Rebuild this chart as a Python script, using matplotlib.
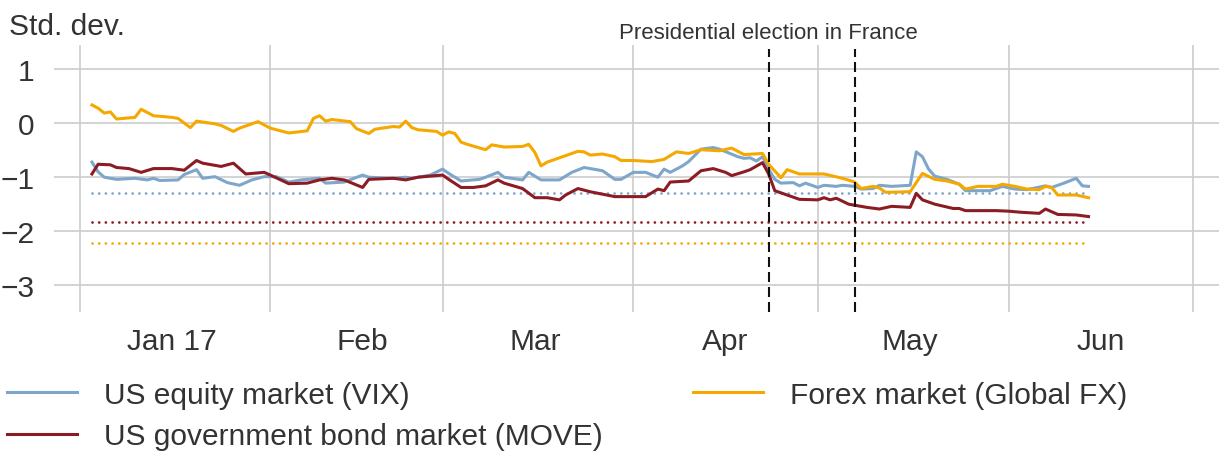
import matplotlib
matplotlib.use('Agg')
import matplotlib.pyplot as plt
import matplotlib.dates as mdates
import pandas as pd

# volatility, in std. dev. from the long-run mean
vix_dates = ['2017-01-03', '2017-01-04', '2017-01-05', '2017-01-07', '2017-01-10', '2017-01-12',
             '2017-01-13', '2017-01-14', '2017-01-17', '2017-01-18', '2017-01-20', '2017-01-21',
             '2017-01-23', '2017-01-25', '2017-01-27', '2017-01-29', '2017-01-31', '2017-02-02',
             '2017-02-04', '2017-02-06', '2017-02-09', '2017-02-10', '2017-02-13', '2017-02-16',
             '2017-02-17', '2017-02-21', '2017-02-23', '2017-02-24', '2017-02-27', '2017-03-01',
             '2017-03-02', '2017-03-04', '2017-03-07', '2017-03-08', '2017-03-10', '2017-03-11',
             '2017-03-14', '2017-03-15', '2017-03-17', '2017-03-20', '2017-03-22', '2017-03-24',
             '2017-03-27', '2017-03-29', '2017-03-30', '2017-04-01', '2017-04-03', '2017-04-05',
             '2017-04-06', '2017-04-07', '2017-04-09', '2017-04-10', '2017-04-12', '2017-04-14',
             '2017-04-15', '2017-04-18', '2017-04-19', '2017-04-20', '2017-04-21', '2017-04-22',
             '2017-04-23', '2017-04-24', '2017-04-25', '2017-04-27', '2017-04-28', '2017-04-29',
             '2017-05-01', '2017-05-02', '2017-05-04', '2017-05-05', '2017-05-07', '2017-05-08',
             '2017-05-10', '2017-05-11', '2017-05-13', '2017-05-16', '2017-05-17', '2017-05-18',
             '2017-05-19', '2017-05-20', '2017-05-22', '2017-05-24', '2017-05-25', '2017-05-29',
             '2017-05-31', '2017-06-02', '2017-06-04', '2017-06-07', '2017-06-08', '2017-06-10',
             '2017-06-12', '2017-06-13', '2017-06-14']
vix = [-0.72, -0.90, -1.00, -1.04, -1.02, -1.05,
       -1.02, -1.06, -1.05, -0.95, -0.86, -1.02,
       -0.99, -1.10, -1.15, -1.05, -0.99, -0.99,
       -1.09, -1.05, -1.02, -1.11, -1.09, -0.96,
       -1.00, -1.02, -1.00, -1.02, -0.96, -0.85,
       -0.93, -1.07, -1.04, -1.00, -0.91, -1.00,
       -1.05, -0.91, -1.05, -1.05, -0.91, -0.82,
       -0.88, -1.04, -1.04, -0.91, -0.91, -1.00,
       -0.85, -0.91, -0.79, -0.71, -0.48, -0.45,
       -0.48, -0.62, -0.65, -0.64, -0.70, -0.62,
       -0.85, -1.04, -1.11, -1.10, -1.16, -1.11,
       -1.19, -1.15, -1.17, -1.15, -1.17, -1.22,
       -1.21, -1.15, -1.17, -1.15, -0.53, -0.62,
       -0.85, -0.98, -1.04, -1.13, -1.25, -1.25,
       -1.17, -1.22, -1.23, -1.16, -1.19, -1.11,
       -1.02, -1.16, -1.17]

move_dates = ['2017-01-03', '2017-01-04', '2017-01-06', '2017-01-07', '2017-01-09', '2017-01-11',
              '2017-01-13', '2017-01-16', '2017-01-18', '2017-01-20', '2017-01-21', '2017-01-24',
              '2017-01-26', '2017-01-28', '2017-01-31', '2017-02-01', '2017-02-04', '2017-02-07',
              '2017-02-09', '2017-02-11', '2017-02-13', '2017-02-16', '2017-02-17', '2017-02-21',
              '2017-02-23', '2017-02-25', '2017-03-01', '2017-03-02', '2017-03-04', '2017-03-06',
              '2017-03-08', '2017-03-10', '2017-03-11', '2017-03-14', '2017-03-16', '2017-03-18',
              '2017-03-20', '2017-03-21', '2017-03-23', '2017-03-25', '2017-03-29', '2017-04-03',
              '2017-04-05', '2017-04-06', '2017-04-07', '2017-04-10', '2017-04-12', '2017-04-14',
              '2017-04-16', '2017-04-17', '2017-04-19', '2017-04-20', '2017-04-22', '2017-04-23',
              '2017-04-24', '2017-04-26', '2017-04-28', '2017-05-01', '2017-05-02', '2017-05-03',
              '2017-05-04', '2017-05-06', '2017-05-09', '2017-05-11', '2017-05-13', '2017-05-16',
              '2017-05-17', '2017-05-18', '2017-05-20', '2017-05-23', '2017-05-24', '2017-05-25',
              '2017-05-30', '2017-06-01', '2017-06-03', '2017-06-06', '2017-06-07', '2017-06-09',
              '2017-06-12', '2017-06-14']
move = [-0.94, -0.76, -0.77, -0.82, -0.84, -0.91,
        -0.84, -0.84, -0.87, -0.69, -0.74, -0.80,
        -0.74, -0.94, -0.91, -0.96, -1.12, -1.11,
        -1.05, -1.02, -1.05, -1.19, -1.04, -1.02,
        -1.05, -1.00, -0.96, -1.04, -1.19, -1.19,
        -1.16, -1.05, -1.11, -1.21, -1.38, -1.38,
        -1.42, -1.33, -1.21, -1.27, -1.36, -1.36,
        -1.22, -1.25, -1.09, -1.07, -0.88, -0.84,
        -0.91, -0.97, -0.90, -0.86, -0.73, -0.94,
        -1.25, -1.33, -1.41, -1.42, -1.38, -1.42,
        -1.39, -1.50, -1.56, -1.59, -1.54, -1.56,
        -1.30, -1.42, -1.50, -1.58, -1.58, -1.62,
        -1.62, -1.63, -1.65, -1.67, -1.59, -1.69,
        -1.70, -1.73]

fx_dates = ['2017-01-03', '2017-01-04', '2017-01-05', '2017-01-06', '2017-01-07', '2017-01-09',
            '2017-01-10', '2017-01-11', '2017-01-12', '2017-01-13', '2017-01-16', '2017-01-17',
            '2017-01-19', '2017-01-20', '2017-01-23', '2017-01-24', '2017-01-26', '2017-01-27',
            '2017-01-30', '2017-02-01', '2017-02-04', '2017-02-07', '2017-02-08', '2017-02-09',
            '2017-02-10', '2017-02-11', '2017-02-14', '2017-02-15', '2017-02-17', '2017-02-18',
            '2017-02-21', '2017-02-22', '2017-02-23', '2017-02-24', '2017-02-25', '2017-02-28',
            '2017-03-01', '2017-03-02', '2017-03-03', '2017-03-04', '2017-03-05', '2017-03-08',
            '2017-03-09', '2017-03-11', '2017-03-14', '2017-03-15', '2017-03-16', '2017-03-17',
            '2017-03-18', '2017-03-20', '2017-03-21', '2017-03-23', '2017-03-24', '2017-03-25',
            '2017-03-27', '2017-03-29', '2017-03-30', '2017-04-01', '2017-04-04', '2017-04-06',
            '2017-04-08', '2017-04-10', '2017-04-12', '2017-04-15', '2017-04-17', '2017-04-19',
            '2017-04-22', '2017-04-23', '2017-04-25', '2017-04-26', '2017-04-28', '2017-05-02',
            '2017-05-05', '2017-05-07', '2017-05-08', '2017-05-10', '2017-05-11', '2017-05-12',
            '2017-05-16', '2017-05-17', '2017-05-18', '2017-05-20', '2017-05-22', '2017-05-24',
            '2017-05-25', '2017-05-27', '2017-05-30', '2017-05-31', '2017-06-02', '2017-06-04',
            '2017-06-06', '2017-06-07', '2017-06-08', '2017-06-09', '2017-06-12', '2017-06-14']
fx = [0.34, 0.28, 0.19, 0.21, 0.08, 0.10,
      0.11, 0.26, 0.20, 0.14, 0.11, 0.09,
      -0.08, 0.04, -0.01, -0.04, -0.15, -0.09,
      0.03, -0.09, -0.18, -0.14, 0.09, 0.14,
      0.04, 0.07, 0.03, -0.10, -0.19, -0.11,
      -0.06, -0.07, 0.04, -0.08, -0.12, -0.15,
      -0.22, -0.16, -0.19, -0.35, -0.39, -0.49,
      -0.40, -0.44, -0.43, -0.39, -0.54, -0.79,
      -0.72, -0.64, -0.60, -0.52, -0.53, -0.59,
      -0.57, -0.62, -0.69, -0.69, -0.71, -0.67,
      -0.53, -0.56, -0.49, -0.51, -0.46, -0.58,
      -0.56, -0.76, -1.01, -0.86, -0.94, -0.94,
      -1.02, -1.09, -1.21, -1.17, -1.20, -1.28,
      -1.27, -1.10, -0.93, -1.04, -1.07, -1.13,
      -1.22, -1.17, -1.17, -1.13, -1.17, -1.22,
      -1.23, -1.17, -1.19, -1.33, -1.33, -1.38]

# long-run averages (dotted lines)
vix_avg = -1.30
move_avg = -1.83
fx_avg = -2.22

events = ['2017-04-23', '2017-05-07']

blue = '#7ea6cb'
red = '#8c1c24'
orange = '#f5a800'
txt = '#333333'

plt.rcParams['font.family'] = ['Liberation Sans', 'DejaVu Sans']

fig = plt.figure(figsize=(12.19, 4.52), dpi=100)
ax = fig.add_axes([0.0443, 0.3075, 0.9557, 0.5905])

vix_t = pd.to_datetime(vix_dates)
move_t = pd.to_datetime(move_dates)
fx_t = pd.to_datetime(fx_dates)

start, end = vix_t[0], vix_t[-1]
dot = dict(lw=2.0, ls=(0, (0.01, 2.4)), dash_capstyle='round')
ax.plot([start, end], [vix_avg, vix_avg], color=blue, **dot)
ax.plot([start, end], [move_avg, move_avg], color=red, **dot)
ax.plot([start, end], [fx_avg, fx_avg], color=orange, **dot)

ax.plot(vix_t, vix, color=blue, lw=2.2, label='US equity market (VIX)')
ax.plot(move_t, move, color=red, lw=2.2, label='US government bond market (MOVE)')
ax.plot(fx_t, fx, color=orange, lw=2.2, label='Forex market (Global FX)')

for d in events:
    ax.axvline(pd.Timestamp(d), ymax=0.985, color='#111111', lw=1.5, ls=(0, (4.8, 2.4)))
ax.text(pd.Timestamp(events[0]), 1.049, 'Presidential election in France',
        transform=ax.get_xaxis_transform(), ha='center', va='center', fontsize=16, color=txt)

ax.set_xlim(pd.Timestamp('2016-12-27 20:00'), pd.Timestamp('2017-07-05 05:00'))
ax.set_ylim(-3.5, 1.45)
ax.set_yticks([-3, -2, -1, 0, 1])

ax.xaxis.set_major_locator(mdates.MonthLocator())
ax.xaxis.set_major_formatter(plt.NullFormatter())
ax.xaxis.set_minor_locator(mdates.MonthLocator(bymonthday=16, bymonth=range(1, 7)))
month_names = ['Jan 17', 'Feb', 'Mar', 'Apr', 'May', 'Jun']
ax.xaxis.set_minor_formatter(plt.FixedFormatter(month_names))

ax.grid(True, which='major', color='#cccccc', lw=1.2)
ax.set_axisbelow(True)
ax.tick_params(which='both', length=0, labelsize=21.5, labelcolor=txt)
ax.tick_params(axis='y', pad=14)
ax.tick_params(axis='x', which='minor', pad=11)
for s in ax.spines.values():
    s.set_visible(False)

fig.text(0.007, 0.94, 'Std. dev.', fontsize=21.5, color=txt, ha='left', va='center')

fig.legend(loc='upper left', bbox_to_anchor=(0.006, 0.155), ncol=2, frameon=False,
           fontsize=21.5, labelcolor=txt, handlelength=2.35, handletextpad=0.9,
           columnspacing=3.0, labelspacing=0.45, borderpad=0, borderaxespad=0)

fig.savefig('out.png', dpi=100)
